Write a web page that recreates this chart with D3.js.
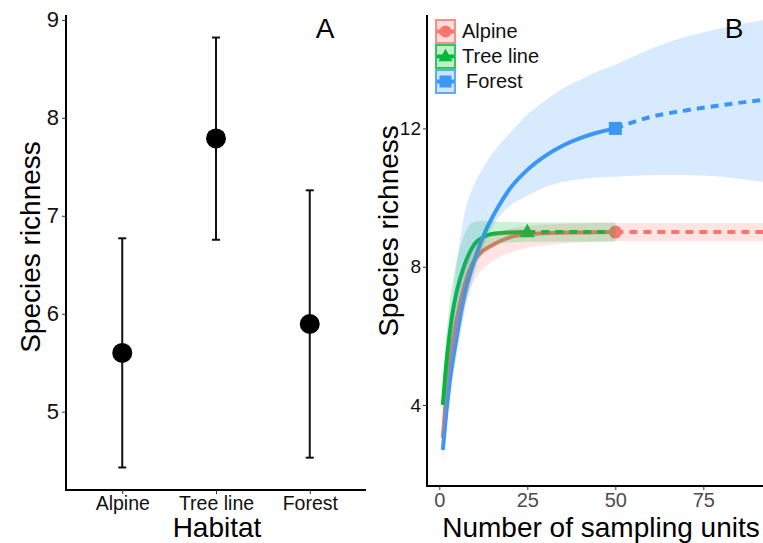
<!DOCTYPE html>
<html>
<head>
<meta charset="utf-8">
<script src="https://cdn.jsdelivr.net/npm/d3@7"></script>
<style>
  body { margin: 0; background: #fff; }
  svg { display: block; font-family: "Liberation Sans", Arial, sans-serif; }
</style>
</head>
<body>
<svg id="chart" width="763" height="543"></svg>
<script>
// panel A: mean richness per habitat with CI
var habitats = ["Alpine", "Tree line", "Forest"];
var meanRich = [5.6, 7.79, 5.895];
var lowerCI = [4.43, 6.755, 4.53];
var upperCI = [6.77, 8.82, 7.26];
var ticksA = [5, 6, 7, 8, 9];

// panel B: rarefaction / extrapolation curves
var alpineUnits = [1, 2, 3, 5, 7, 10, 15, 20, 25, 30, 40, 50, 60, 70, 80, 90, 97];
var alpineMean  = [3.05, 4.3, 5.2, 6.5, 7.4, 8.2, 8.62, 8.85, 8.94, 8.97, 8.99, 9.0, 9.0, 9.0, 9.0, 9.0, 9.0];
var alpineLow   = [2.6, 3.7, 4.6, 5.9, 6.8, 7.6, 8.15, 8.4, 8.55, 8.63, 8.7, 8.74, 8.74, 8.74, 8.74, 8.74, 8.74];
var alpineUp    = [3.5, 4.8, 5.7, 7.0, 7.9, 8.6, 8.95, 9.1, 9.18, 9.22, 9.25, 9.26, 9.26, 9.26, 9.26, 9.26, 9.26];

var treeUnits = [1, 2, 3, 4, 5, 7, 10, 13, 16, 20, 25, 30, 40, 50];
var treeMean  = [4.0, 5.2, 6.1, 6.8, 7.3, 8.0, 8.65, 8.88, 8.96, 8.99, 9.0, 9.0, 9.0, 9.0];
var treeLow   = [3.4, 4.4, 5.2, 5.9, 6.4, 7.1, 8.0, 8.43, 8.61, 8.7, 8.72, 8.72, 8.72, 8.72];
var treeUp    = [4.6, 6.0, 7.0, 7.7, 8.2, 8.9, 9.3, 9.33, 9.31, 9.29, 9.28, 9.28, 9.28, 9.28];

var forestUnits = [1, 2, 3, 5, 7, 10, 13, 16, 20, 25, 30, 35, 40, 45, 50, 60, 70, 80, 90, 97];
var forestMean  = [2.7, 3.8, 4.7, 6.0, 7.1, 8.2, 9.0, 9.6, 10.25, 10.8, 11.2, 11.5, 11.72, 11.88, 12.0, 12.33, 12.52, 12.67, 12.8, 12.87];
var forestLow   = [2.3, 3.3, 4.2, 5.5, 6.6, 7.8, 8.7, 9.3, 9.75, 10.05, 10.3, 10.45, 10.53, 10.58, 10.6, 10.65, 10.65, 10.6, 10.48, 10.4];
var forestUp    = [3.2, 4.6, 6.0, 8.1, 9.45, 10.4, 10.95, 11.4, 11.85, 12.4, 12.8, 13.15, 13.4, 13.65, 13.85, 14.3, 14.65, 14.9, 15.1, 15.2];

var observedUnits = [50, 25, 50];
var seriesNames = ["Alpine", "Tree line", "Forest"];
var seriesColors = ["#F8766D", "#00BA38", "#3A98F8"];
var ticksBx = [0, 25, 50, 75];
var ticksBy = [4, 8, 12];

var svg = d3.select("#chart");

function makeSeries(units, mean, low, up) {
  return units.map(function(u, i) {
    return {x: u, m: mean[i], lo: low[i], hi: up[i]};
  });
}
var series = [
  makeSeries(alpineUnits, alpineMean, alpineLow, alpineUp),
  makeSeries(treeUnits, treeMean, treeLow, treeUp),
  makeSeries(forestUnits, forestMean, forestLow, forestUp)
];

// ---------- panel A ----------
var xA = d3.scalePoint().domain(habitats).range([66, 366]).padding(0.6);
var yA = d3.scaleLinear().domain([4.2, 9.05]).range([490, 15]);

var axA = svg.append("g").attr("transform", "translate(66,0)")
  .call(d3.axisLeft(yA).tickValues(ticksA).tickFormat(d3.format("d")).tickSize(4).tickPadding(3));
axA.select(".domain").attr("stroke", "#000").attr("stroke-width", 2).attr("d", "M0,15V491");
axA.selectAll(".tick line").attr("stroke", "#333");
axA.selectAll(".tick text").attr("fill", "#111").style("font-size", "22px");

var axAx = svg.append("g").attr("transform", "translate(0,490)")
  .call(d3.axisBottom(xA).tickSize(4).tickPadding(2));
axAx.select(".domain").attr("stroke", "#000").attr("stroke-width", 2).attr("d", "M65,0H366");
axAx.selectAll(".tick line").attr("stroke", "#333");
axAx.selectAll(".tick text").attr("fill", "#111").style("font-size", "19.5px");

var bars = svg.append("g");
habitats.forEach(function(h, i) {
  var cx = xA(h);
  bars.append("line").attr("x1", cx).attr("x2", cx)
    .attr("y1", yA(lowerCI[i])).attr("y2", yA(upperCI[i]))
    .attr("stroke", "#111").attr("stroke-width", 2);
  [lowerCI[i], upperCI[i]].forEach(function(v) {
    bars.append("line").attr("x1", cx - 4).attr("x2", cx + 4)
      .attr("y1", yA(v)).attr("y2", yA(v))
      .attr("stroke", "#111").attr("stroke-width", 2);
  });
  bars.append("circle").attr("cx", cx).attr("cy", yA(meanRich[i])).attr("r", 10).attr("fill", "#000");
});

svg.append("text").attr("x", 217).attr("y", 537).attr("text-anchor", "middle")
  .style("font-size", "28px").text("Habitat");
svg.append("text").attr("transform", "translate(40,247) rotate(-90)").attr("text-anchor", "middle")
  .style("font-size", "28px").text("Species richness");
svg.append("text").attr("x", 325).attr("y", 38).attr("text-anchor", "middle")
  .style("font-size", "28px").text("A");

// ---------- panel B ----------
var xB = d3.scaleLinear().domain([-3.5, 96.5]).range([427, 779]);
var yB = d3.scaleLinear().domain([1.656, 15.28]).range([486, 15]);

svg.append("clipPath").attr("id", "panelB").append("rect")
  .attr("x", 428).attr("y", 15).attr("width", 340).attr("height", 471);

var line = d3.line().curve(d3.curveMonotoneX).x(d => xB(d.x)).y(d => yB(d.m));
var area = d3.area().curve(d3.curveMonotoneX).x(d => xB(d.x)).y0(d => yB(d.lo)).y1(d => yB(d.hi));

var plot = svg.append("g").attr("clip-path", "url(#panelB)");

// lines first, ribbons laid over them
series.forEach(function(s, i) {
  var obs = observedUnits[i];
  plot.append("path").datum(s.filter(d => d.x <= obs))
    .attr("d", line).attr("fill", "none")
    .attr("stroke", seriesColors[i]).attr("stroke-width", 4);
  plot.append("path").datum(s.filter(d => d.x >= obs))
    .attr("d", line).attr("fill", "none")
    .attr("stroke", seriesColors[i]).attr("stroke-width", 4)
    .attr("stroke-dasharray", "8,6");
});

function drawMarker(g, i, x, y, size) {
  if (i === 0) {
    g.append("circle").attr("cx", x).attr("cy", y).attr("r", size / 2).attr("fill", seriesColors[i]);
  } else if (i === 1) {
    var h = size * 0.9;
    g.append("path")
      .attr("d", "M" + x + "," + (y - h * 0.62) + "L" + (x + size / 2) + "," + (y + h * 0.38) +
                 "L" + (x - size / 2) + "," + (y + h * 0.38) + "Z")
      .attr("fill", seriesColors[i]);
  } else {
    g.append("rect").attr("x", x - size / 2).attr("y", y - size / 2)
      .attr("width", size).attr("height", size).attr("fill", seriesColors[i]);
  }
}

series.forEach(function(s, i) {
  var obs = observedUnits[i];
  var pt = s.find(d => d.x === obs);
  drawMarker(plot, i, xB(pt.x), yB(pt.m), i === 1 ? 15 : 13);
});

series.forEach(function(s, i) {
  plot.append("path").datum(s).attr("d", area)
    .attr("fill", seriesColors[i]).attr("fill-opacity", 0.2);
});

var axBy = svg.append("g").attr("transform", "translate(427,0)")
  .call(d3.axisLeft(yB).tickValues(ticksBy).tickSize(4).tickPadding(2));
axBy.select(".domain").attr("stroke", "#000").attr("stroke-width", 2).attr("d", "M0,15V487");
axBy.selectAll(".tick line").attr("stroke", "#333");
axBy.selectAll(".tick text").attr("fill", "#111").style("font-size", "19px");

var axBx = svg.append("g").attr("transform", "translate(0,486)")
  .call(d3.axisBottom(xB).tickValues(ticksBx).tickSize(4).tickPadding(3));
axBx.select(".domain").attr("stroke", "#000").attr("stroke-width", 2).attr("d", "M426,0H779");
axBx.selectAll(".tick line").attr("stroke", "#333");
axBx.selectAll(".tick text").attr("fill", "#4d4d4d").style("font-size", "20px");

svg.append("text").attr("x", 601).attr("y", 537).attr("text-anchor", "middle")
  .style("font-size", "28px").text("Number of sampling units");
svg.append("text").attr("transform", "translate(398,231) rotate(-90)").attr("text-anchor", "middle")
  .style("font-size", "28px").text("Species richness");
svg.append("text").attr("x", 734).attr("y", 38).attr("text-anchor", "middle")
  .style("font-size", "28px").text("B");

// legend
var legendTop = [20, 45, 70];
var legendTextX = [462, 462, 466];
var legend = svg.append("g");
seriesNames.forEach(function(name, i) {
  var ky = legendTop[i];
  legend.append("rect").attr("x", 436).attr("y", ky).attr("width", 19).attr("height", 23)
    .attr("fill", seriesColors[i]).attr("fill-opacity", 0.25)
    .attr("stroke", seriesColors[i]).attr("stroke-opacity", 0.8).attr("stroke-width", 2);
  legend.append("line").attr("x1", 437).attr("x2", 454).attr("y1", ky + 11.5).attr("y2", ky + 11.5)
    .attr("stroke", seriesColors[i]).attr("stroke-width", 4);
  drawMarker(legend, i, 445.5, ky + 11.5, i === 1 ? 14 : 12);
  legend.append("text").attr("x", legendTextX[i]).attr("y", ky + 18)
    .style("font-size", "20px").attr("fill", "#111").text(name);
});
</script>
</body>
</html>
